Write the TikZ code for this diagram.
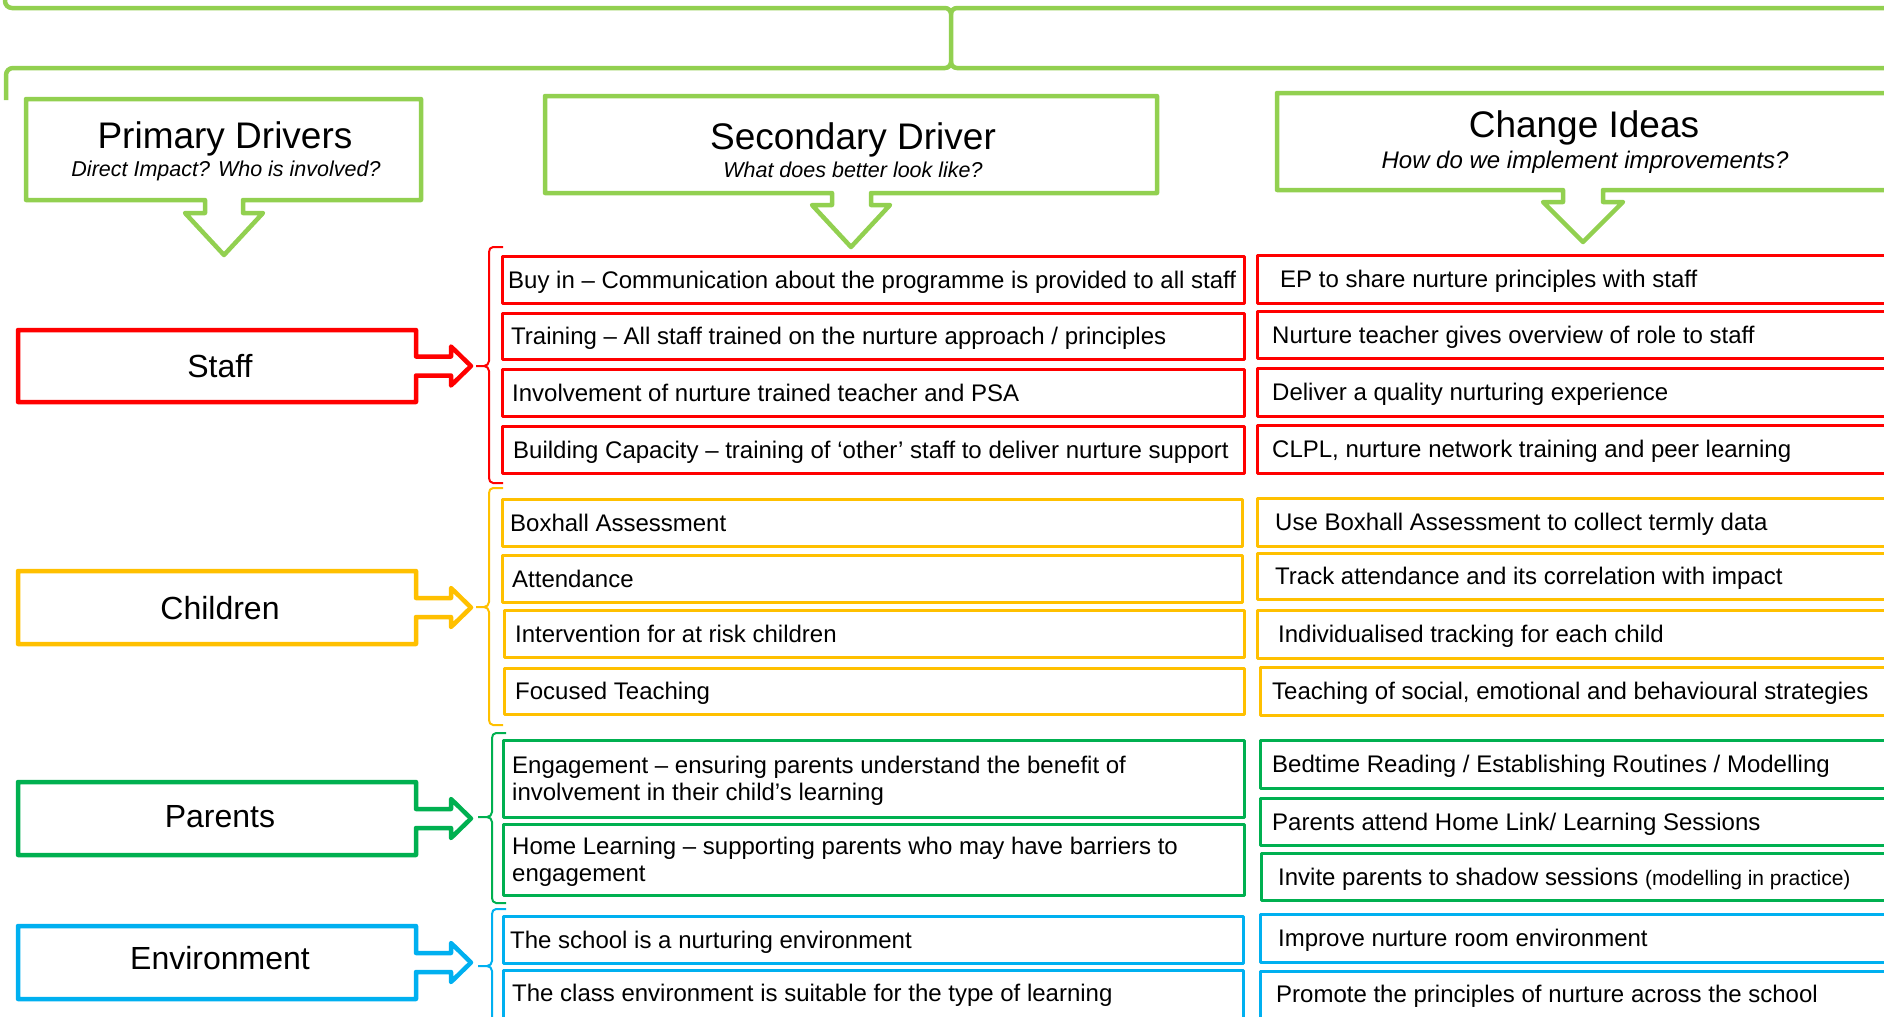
\documentclass[tikz,border=0pt]{standalone}
\usepackage{fontspec}
\setmainfont{Liberation Sans}
\usetikzlibrary{fit}
\definecolor{lgreen}{HTML}{92D050}
\definecolor{cred}{HTML}{FF0000}
\definecolor{cgold}{HTML}{FFC000}
\definecolor{cgreen}{HTML}{00B050}
\definecolor{cblue}{HTML}{00B0F0}
\newcommand{\mkbox}[9][]{%
  \node[bx=#3, fit={(#4,#5)(#6,#7)}] (#2) {};
  \node[lbl,#1] (#2t) at (#8,{(#5+#7)/2}) {#9};}
\newcommand{\primshape}[4]{%
  \draw[prim,draw=#1] (18,#2) -- (416,#2) -- (416,#4-9.5) -- (451,#4-9.5) -- (451,#4-19.5)
    -- (471,#4) -- (451,#4+19.5) -- (451,#4+9.5) -- (416,#4+9.5) -- (416,#3) -- (18,#3) -- cycle;}
\newcommand{\mkbrace}[6]{%
  \draw[brc,draw=#1] (#2+14,#3) -- (#2+4,#3) to[out=180,in=90] (#2,#3+5) -- (#2,#5-5)
    to[out=-90,in=0] (#2-5,#5) -- (#6,#5);
  \draw[brc,draw=#1] (#2-5,#5) to[out=0,in=90] (#2,#5+5) -- (#2,#4-5)
    to[out=-90,in=180] (#2+4,#4) -- (#2+14,#4);}
\begin{document}
\begin{tikzpicture}[x=1bp,y=-1bp,
  hdr/.style={draw=lgreen,line width=4.5bp,line join=round},
  prim/.style={line width=4.5bp,line join=round},
  brc/.style={line width=2bp,line join=round},
  bx/.style={draw=#1,line width=3bp,rectangle,inner sep=0pt,line join=round},
  lbl/.style={anchor=west,inner sep=0pt,align=left,text height=17.2bp,text depth=0bp,
    font=\fontsize{24bp}{27.5bp}\selectfont},
  twol/.style={text height=44.7bp},
  ttl/.style={anchor=base,inner sep=0pt,font=\fontsize{37bp}{44bp}\selectfont},
  sub/.style={anchor=base,inner sep=0pt,font=\fontsize{21.5bp}{26bp}\selectfont\itshape},
  plbl/.style={anchor=base,inner sep=0pt,font=\fontsize{32bp}{38bp}\selectfont}]
\useasboundingbox (0,0) rectangle (1884,1016);
\clip (0,0) rectangle (1884,1016);

% top bracket
\draw[hdr] (5,-5) -- (5,1) to[out=-90,in=180] (12,8) -- (945,8) to[out=0,in=90] (951,14)
  -- (951,62) to[out=-90,in=0] (945,68) -- (13,68) to[out=180,in=90] (6,75) -- (6,100);
\draw[hdr] (1892,8) -- (957,8) to[out=180,in=90] (951,14);
\draw[hdr] (1892,68) -- (957,68) to[out=180,in=-90] (951,62);

% header callouts
\draw[hdr] (26,99) -- (421,99) -- (421,200) -- (243,200) -- (243,213) -- (263,213) -- (224,255)
  -- (185,213) -- (205,213) -- (205,200) -- (26,200) -- cycle;
\node[ttl] (pd) at (225,148) {Primary Drivers};
\node[sub] (pds) at (226,176) {Direct Impact? Who is involved?};

\draw[hdr] (545,96) -- (1157,96) -- (1157,193) -- (871,193) -- (871,205) -- (890,205) -- (851,247)
  -- (812,205) -- (832,205) -- (832,193) -- (545,193) -- cycle;
\node[ttl] (sd) at (853,149) {Secondary Driver};
\node[sub] (sds) at (853,177) {What does better look like?};

\draw[hdr] (1277,93) -- (1892,93) -- (1892,190) -- (1603,190) -- (1603,202) -- (1623,202) -- (1583,242)
  -- (1543,202) -- (1563,202) -- (1563,190) -- (1277,190) -- cycle;
\node[ttl] (ci) at (1584,137) {Change Ideas};
\node[sub,font=\fontsize{24bp}{28bp}\selectfont\itshape] (cis) at (1585,168) {How do we implement improvements?};

% primary drivers
\primshape{cred}{330}{402}{366}
\node[plbl] (staff) at (220,377) {Staff};
\primshape{cgold}{571}{644}{607.5}
\node[plbl] (children) at (220,619) {Children};
\primshape{cgreen}{782}{855}{818.5}
\node[plbl] (parents) at (220,827) {Parents};
\primshape{cblue}{926}{999}{962.5}
\node[plbl] (env) at (220,969) {Environment};

% braces
\mkbrace{cred}{489}{247}{483}{366}{476}
\mkbrace{cgold}{489}{488}{725}{607}{476}
\mkbrace{cgreen}{492}{733}{903}{817}{478}
\mkbrace{cblue}{492}{909}{1024}{966}{478}

% secondary drivers
\mkbox{s1}{cred}{502.5}{256}{1244}{303}{508}{Buy in – Communication about the programme is provided to all staff}
\mkbox{s2}{cred}{502.5}{313}{1244}{359}{511}{Training – All staff trained on the nurture approach / principles}
\mkbox{s3}{cred}{502.5}{369}{1244}{416}{512}{Involvement of nurture trained teacher and PSA}
\mkbox{s4}{cred}{502.5}{426}{1244}{473}{513}{Building Capacity – training of ‘other’ staff to deliver nurture support}
\mkbox{s5}{cgold}{502.5}{499}{1242}{546}{510}{Boxhall Assessment}
\mkbox{s6}{cgold}{502.5}{555}{1242}{602}{512}{Attendance}
\mkbox{s7}{cgold}{504}{610}{1244}{657}{515}{Intervention for at risk children}
\mkbox{s8}{cgold}{504}{668}{1244}{714}{515}{Focused Teaching}
\mkbox[twol]{s9}{cgreen}{503}{740}{1244}{817}{512}{Engagement – ensuring parents understand the benefit of\\involvement in their child’s learning}
\mkbox[twol]{s10}{cgreen}{503}{824}{1244}{895}{512}{Home Learning – supporting parents who may have barriers to\\engagement}
\mkbox{s11}{cblue}{503}{916}{1243}{963}{510}{The school is a nurturing environment}
\node[bx=cblue, fit={(503,970)(1243,1030)}] (s12) {};
\node[lbl] (s12t) at (512,993) {The class environment is suitable for the type of learning};

% change ideas
\mkbox{c1}{cred}{1257}{255}{1892}{303}{1280}{EP to share nurture principles with staff}
\mkbox{c2}{cred}{1257}{311}{1892}{358}{1272}{Nurture teacher gives overview of role to staff}
\mkbox{c3}{cred}{1257}{368}{1892}{416}{1272}{Deliver a quality nurturing experience}
\mkbox{c4}{cred}{1257}{425}{1892}{473}{1272}{CLPL, nurture network training and peer learning}
\mkbox{c5}{cgold}{1257}{498}{1892}{546}{1275}{Use Boxhall Assessment to collect termly data}
\mkbox{c6}{cgold}{1257}{553}{1892}{599}{1275}{Track attendance and its correlation with impact}
\mkbox{c7}{cgold}{1257}{610}{1892}{658}{1278}{Individualised tracking for each child}
\mkbox{c8}{cgold}{1260}{667}{1892}{715}{1272}{Teaching of social, emotional and behavioural strategies}
\mkbox{c9}{cgreen}{1260}{740}{1892}{788}{1272}{Bedtime Reading / Establishing Routines / Modelling}
\mkbox{c10}{cgreen}{1260}{798}{1892}{845}{1272}{Parents attend Home Link/ Learning Sessions}
\mkbox{c11}{cgreen}{1261}{853}{1892}{900}{1278}{Invite parents to shadow sessions {\fontsize{21bp}{24bp}\selectfont (modelling in practice)}}
\mkbox{c12}{cblue}{1260}{914}{1892}{962}{1278}{Improve nurture room environment}
\node[bx=cblue, fit={(1260,971)(1892,1030)}] (c13) {};
\node[lbl] (c13t) at (1276,994) {Promote the principles of nurture across the school};
\end{tikzpicture}
\end{document}
